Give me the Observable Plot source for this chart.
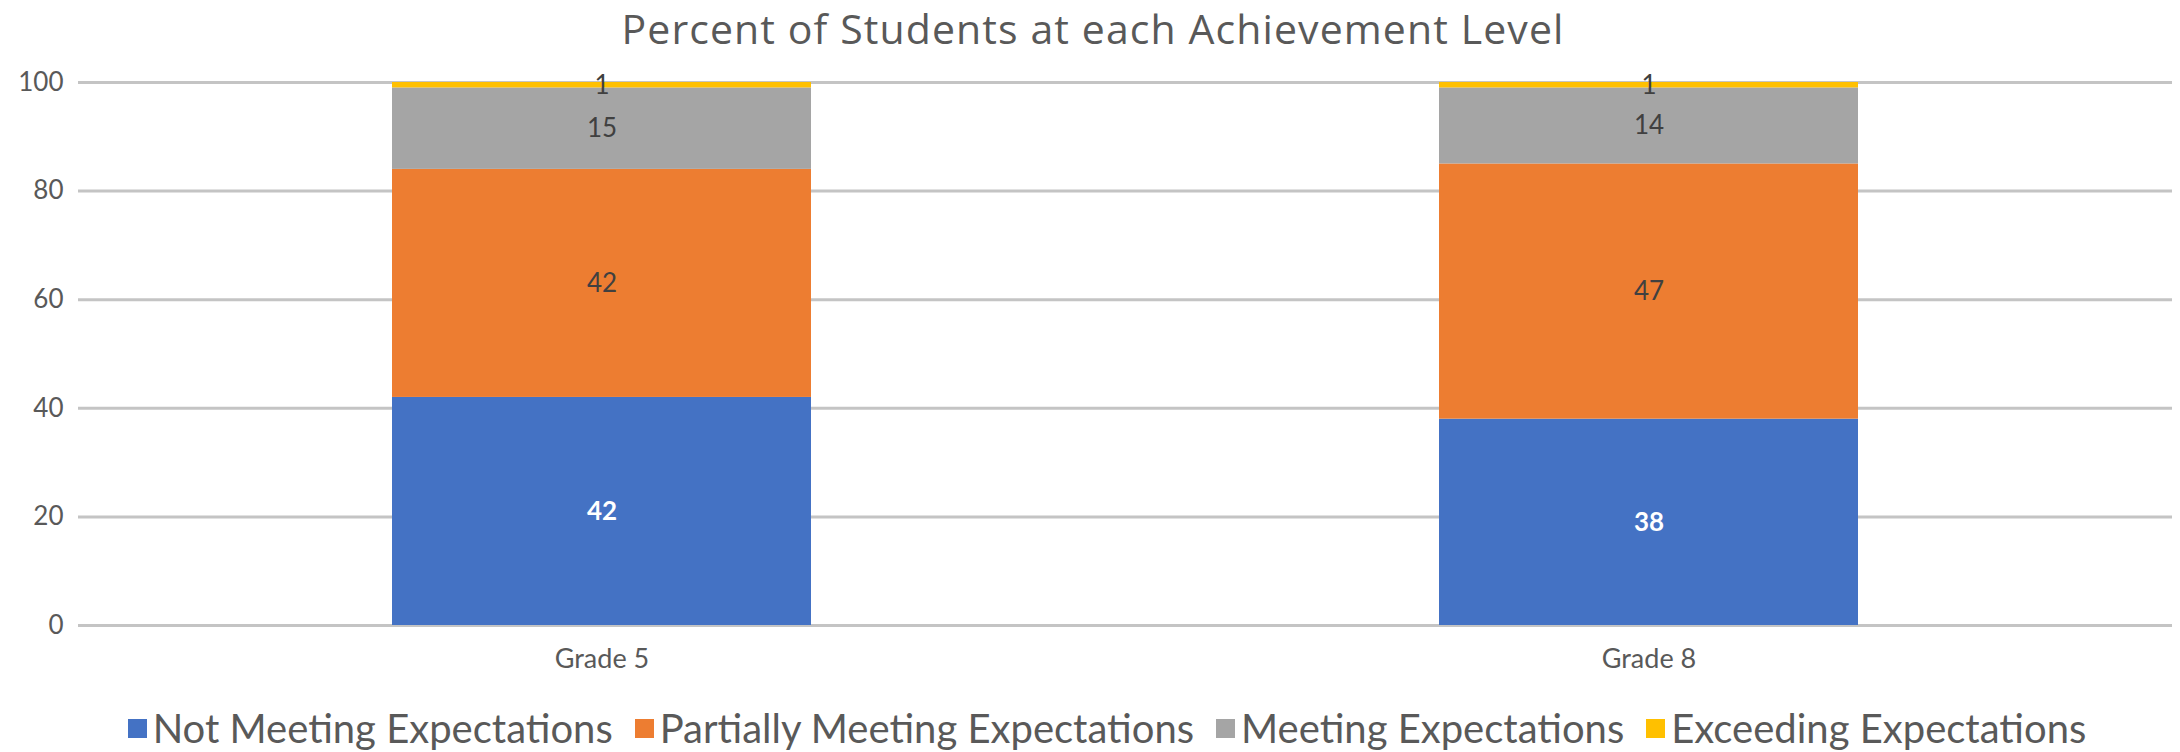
<!DOCTYPE html>
<html>
<head>
<meta charset="utf-8">
<script src="https://cdn.jsdelivr.net/npm/d3@7"></script>
<script src="https://cdn.jsdelivr.net/npm/@observablehq/plot@0.6"></script>
<style>
  html, body { margin: 0; padding: 0; background: #fff; }
  #wrap { width: 2180px; height: 752px; overflow: hidden; font-family: Lato, "Open Sans", sans-serif; color: #595959; }
  #title { height: 56px; line-height: 56px; font-family: "Open Sans", Lato, sans-serif; font-size: 41px; letter-spacing: 1.1px; text-align: center; white-space: nowrap; padding-left: 6px; box-sizing: border-box; }
  #legend { height: 56px; box-sizing: border-box; padding-top: 8px; display: flex; justify-content: center; align-items: center; gap: 22px; padding-left: 34px; font-size: 40px; line-height: 48px; white-space: nowrap; }
  .item { display: flex; align-items: center; }
  .sw { width: 19px; height: 19px; margin-right: 6px; display: inline-block; }
  svg { display: block; }
</style>
</head>
<body>
<div id="wrap">
  <div id="title"></div>
  <div id="chart"></div>
  <div id="legend"></div>
</div>
<script>
const titleText = "Percent of Students at each Achievement Level";
const grades = ["Grade 5", "Grade 8"];
const levels = ["Not Meeting Expectations", "Partially Meeting Expectations", "Meeting Expectations", "Exceeding Expectations"];
const levelColors = ["#4472C4", "#ED7D31", "#A5A5A5", "#FFC000"];
const notMeeting = [42, 38];
const partiallyMeeting = [42, 47];
const meeting = [15, 14];
const exceeding = [1, 1];
const yTicks = [0, 20, 40, 60, 80, 100];

const seriesValues = [notMeeting, partiallyMeeting, meeting, exceeding];
const rows = [];
grades.forEach((g, gi) => {
  levels.forEach((lv, li) => {
    rows.push({grade: g, level: lv, value: seriesValues[li][gi]});
  });
});

document.getElementById("title").textContent = titleText;

const chart = Plot.plot({
  width: 2180,
  height: 640,
  marginTop: 26,
  marginBottom: 71,
  marginLeft: 78,
  marginRight: 8,
  style: {fontFamily: "Lato, 'Open Sans', sans-serif", background: "white"},
  x: {domain: grades, paddingInner: 0.6, paddingOuter: 0.3, label: null},
  y: {domain: [0, 100], label: null},
  color: {domain: levels, range: levelColors},
  marks: [
    Plot.ruleY(yTicks, {stroke: "#c4c4c4", strokeWidth: 3}),
    Plot.barY(rows, {x: "grade", y: "value", fill: "level"}),
    Plot.text(rows, Plot.stackY({
      x: "grade", y: "value",
      text: d => d.level === levels[0] ? String(d.value) : null,
      fill: "white", fontWeight: "bold", fontSize: 26
    })),
    Plot.text(rows, Plot.stackY({
      x: "grade", y: "value",
      text: d => d.level !== levels[0] ? String(d.value) : null,
      fill: "#404040", fontSize: 26
    })),
    Plot.axisX({tickSize: 0, tickPadding: 23, fontSize: 27, fill: "#595959"}),
    Plot.axisY({ticks: yTicks, tickSize: 0, tickPadding: 15, fontSize: 26, fill: "#595959"})
  ]
});
document.getElementById("chart").appendChild(chart);

const legend = document.getElementById("legend");
levels.forEach((lv, i) => {
  const item = document.createElement("span");
  item.className = "item";
  const sw = document.createElement("span");
  sw.className = "sw";
  sw.style.background = levelColors[i];
  const t = document.createElement("span");
  t.textContent = lv;
  item.appendChild(sw);
  item.appendChild(t);
  legend.appendChild(item);
});
</script>
</body>
</html>
